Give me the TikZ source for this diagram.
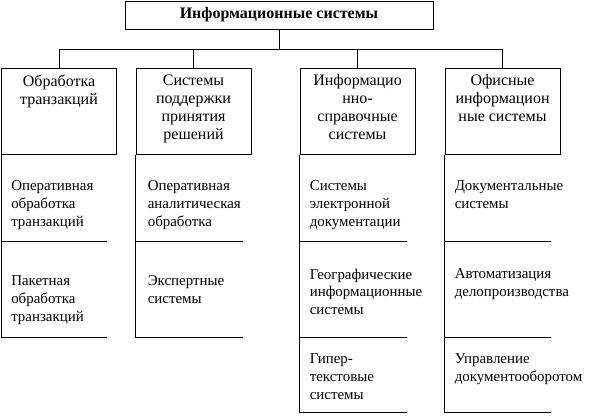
\documentclass[tikz,border=0pt]{standalone}
\usepackage{fontspec}
\setmainfont{Liberation Serif}
\usetikzlibrary{positioning, calc}

\begin{document}
\begin{tikzpicture}[
        x=0.75pt, y=-0.75pt,
        every node/.style={font=\fontsize{12}{13.5}\selectfont, inner sep=0pt}, % Текст: Times, 12pt
        line/.style={draw=black, line width=0.75pt},
        titlebox/.style={line, rectangle, minimum width=231pt, minimum height=21pt, font=\fontsize{12}{13.5}\selectfont\bfseries},
        catbox/.style={line, rectangle, minimum width=86.25pt, minimum height=64.5pt},
        cattext/.style={align=center},
        itemtext/.style={align=left, font=\fontsize{11.2}{13.3}\selectfont}
    ]
        \useasboundingbox (0,0) rectangle (606,415);

        % --- Заголовок ---
        \node[titlebox] (title) at (279,15) {Информационные системы};

        % --- Классы систем ---
        \node[catbox] (trans) at (59,111) {};
        \node[catbox, right=13.9pt of trans] (dss) {};
        \node[catbox, right=36pt of dss] (inforef) {};
        \node[catbox, right=21.75pt of inforef] (office) {};

        \node[cattext, below=5.25pt of trans.north] (trans_txt) {Обработка\\транзакций};
        \node[cattext, below=5.25pt of dss.north] (dss_txt) {Системы\\поддержки\\принятия\\решений};
        \node[cattext, below=5.25pt of inforef.north] (inforef_txt) {Информацио\\нно-\\справочные\\системы};
        \node[cattext, below=5.25pt of office.north] (office_txt) {Офисные\\информацион\\ные системы};

        % --- Шина от заголовка ---
        \coordinate (bus) at (0,49);
        \draw[line] (title.south) -- (title.south |- bus);
        \draw[line] (trans.north |- bus) -- (office.north |- bus);
        \draw[line] (trans.north |- bus) -- (trans.north);
        \draw[line] (dss.north |- bus) -- (dss.north);
        \draw[line] (inforef.north |- bus) -- (inforef.north);
        \draw[line] (office.north |- bus) -- (office.north);

        % --- Разделители под классами ---
        \coordinate (trans_a) at ($(trans.south west) + (0,87)$);
        \coordinate (trans_b) at ($(trans.south west) + (0,183)$);
        \coordinate (dss_a) at ($(dss.south west) + (0,87)$);
        \coordinate (dss_b) at ($(dss.south west) + (0,183)$);
        \coordinate (inforef_a) at ($(inforef.south west) + (0,87)$);
        \coordinate (inforef_b) at ($(inforef.south west) + (0,183)$);
        \coordinate (inforef_c) at ($(inforef.south west) + (0,258)$);
        \coordinate (office_a) at ($(office.south west) + (0,87)$);
        \coordinate (office_b) at ($(office.south west) + (0,183)$);
        \coordinate (office_c) at ($(office.south west) + (0,258)$);

        \draw[line] (trans.south west) -- (trans_b);
        \draw[line] (dss.south west) -- (dss_b);
        \draw[line] (inforef.south west) -- (inforef_c);
        \draw[line] (office.south west) -- (office_c);

        \draw[line] (trans_a) -- ++(106,0);
        \draw[line] (trans_b) -- ++(106,0);
        \draw[line] (dss_a) -- ++(107,0);
        \draw[line] (dss_b) -- ++(107,0);
        \draw[line] (inforef_a) -- ++(107,0);
        \draw[line] (inforef_b) -- ++(107,0);
        \draw[line] (inforef_c) -- ++(107,0);
        \draw[line] (office_a) -- ++(106,0);
        \draw[line] (office_b) -- ++(106,0);
        \draw[line] (office_c) -- ++(106,0);

        % --- Подсистемы ---
        \node[itemtext, below right=19.5pt and 7.5pt of trans.south west] (op_trans) {Оперативная\\обработка\\транзакций};
        \node[itemtext, below right=25.5pt and 7.5pt of trans_a] (batch_trans) {Пакетная\\обработка\\транзакций};

        \node[itemtext, below right=19.5pt and 9pt of dss.south west] (olap) {Оперативная\\аналитическая\\обработка};
        \node[itemtext, below right=25.5pt and 9pt of dss_a] (expert) {Экспертные\\системы};

        \node[itemtext, below right=19.5pt and 7.5pt of inforef.south west] (edoc) {Системы\\электронной\\документации};
        \node[itemtext, below right=20.25pt and 7.5pt of inforef_a] (gis) {Географические\\информационные\\системы};
        \node[itemtext, below right=12pt and 7.5pt of inforef_b] (hyper) {Гипер-\\текстовые\\системы};

        \node[itemtext, below right=19.5pt and 7.5pt of office.south west] (docsys) {Документальные\\системы};
        \node[itemtext, below right=20.25pt and 7.5pt of office_a] (clerk) {Автоматизация\\делопроизводства};
        \node[itemtext, below right=12pt and 7.5pt of office_b] (docflow) {Управление\\документооборотом};

    \end{tikzpicture}
\end{document}
